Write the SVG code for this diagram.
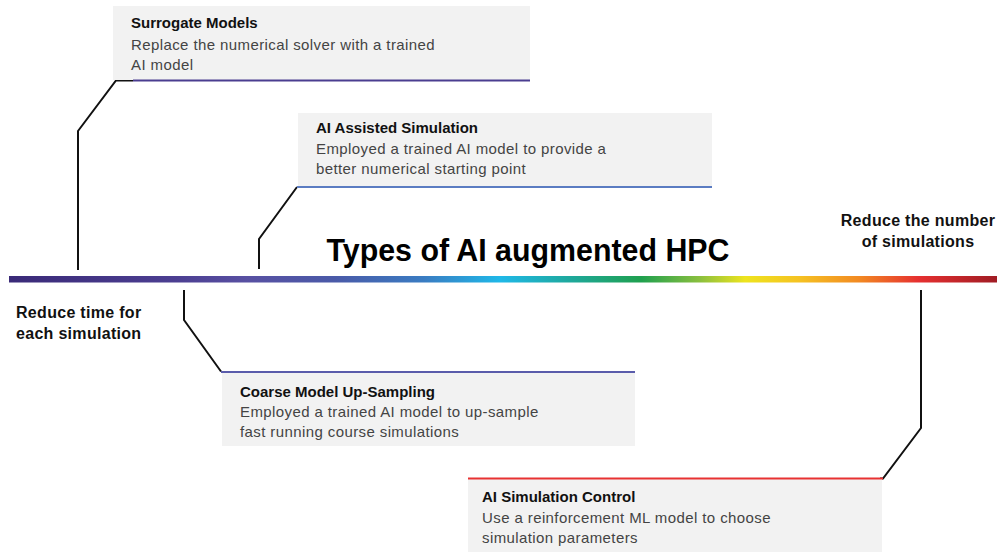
<svg xmlns="http://www.w3.org/2000/svg" width="997" height="552" viewBox="0 0 997 552">
  <style>
    .box { fill: #f2f2f2; }
    .title { font-family: "Liberation Sans", Arial, sans-serif; font-weight: bold; font-size: 15px; fill: #111; }
    .desc { font-family: "Liberation Sans", Arial, sans-serif; font-size: 15px; letter-spacing: 0.4px; fill: #444; }
    .side { font-family: "Liberation Sans", Arial, sans-serif; font-weight: bold; font-size: 16px; letter-spacing: 0.3px; fill: #111; }
    .main { font-family: "Liberation Sans", Arial, sans-serif; font-weight: bold; font-size: 31px; fill: #000; }
    .conn { fill: none; stroke: #111; stroke-width: 2; stroke-linejoin: miter; }
  </style>
  <defs>
    <linearGradient id="spectrum" gradientUnits="userSpaceOnUse" x1="9" y1="0" x2="997" y2="0">
      <stop offset="0" stop-color="#3a2a78"/>
      <stop offset="0.17" stop-color="#4c3f92"/>
      <stop offset="0.24" stop-color="#5850a2"/>
      <stop offset="0.33" stop-color="#4a5aa8"/>
      <stop offset="0.42" stop-color="#3a7cc2"/>
      <stop offset="0.497" stop-color="#1fb8e8"/>
      <stop offset="0.57" stop-color="#1ea89a"/>
      <stop offset="0.64" stop-color="#1fa04e"/>
      <stop offset="0.70" stop-color="#8cc03e"/>
      <stop offset="0.745" stop-color="#eee41e"/>
      <stop offset="0.80" stop-color="#f5c222"/>
      <stop offset="0.86" stop-color="#f28a22"/>
      <stop offset="0.92" stop-color="#e63030"/>
      <stop offset="1" stop-color="#a01c24"/>
    </linearGradient>
  </defs>

  <!-- spectrum axis -->
  <rect x="9" y="276" width="988" height="6.5" fill="url(#spectrum)"/>

  <!-- heading and axis end labels -->
  <text class="main" x="528" y="261" text-anchor="middle" textLength="403" lengthAdjust="spacingAndGlyphs">Types of AI augmented HPC</text>
  <g id="label-left">
    <text class="side" x="16" y="318">Reduce time for</text>
    <text class="side" x="16" y="339">each simulation</text>
  </g>
  <g id="label-right">
    <text class="side" x="918" y="226" text-anchor="middle">Reduce the number</text>
    <text class="side" x="918" y="247" text-anchor="middle">of simulations</text>
  </g>

  <!-- leader lines -->
  <g id="connectors">
    <polyline class="conn" points="78,270 78,131 116,80.5 133,80.5"/>
    <polyline class="conn" points="259,269 259,239 297,187"/>
    <polyline class="conn" points="184,290 184,320 221,371.5"/>
    <polyline class="conn" points="921,290 921,428 883,478.5 880,478.5"/>
  </g>

  <g id="surrogate-models">
    <rect class="box" x="113" y="6" width="417" height="74"/>
    <line x1="133" y1="80.5" x2="530" y2="80.5" stroke="#4a3d90" stroke-width="2"/>
    <text class="title" x="131" y="28">Surrogate Models</text>
    <text class="desc" x="131" y="50">Replace the numerical solver with a trained</text>
    <text class="desc" x="131" y="70">AI model</text>
  </g>

  <g id="ai-assisted-simulation">
    <rect class="box" x="298" y="113" width="414" height="73"/>
    <line x1="297" y1="187" x2="712" y2="187" stroke="#5b7cc2" stroke-width="2"/>
    <text class="title" x="316" y="133">AI Assisted Simulation</text>
    <text class="desc" x="316" y="154">Employed a trained AI model to provide a</text>
    <text class="desc" x="316" y="174">better numerical starting point</text>
  </g>

  <g id="coarse-model-upsampling">
    <rect class="box" x="222" y="372" width="413" height="74"/>
    <line x1="221" y1="372" x2="635" y2="372" stroke="#5a5cab" stroke-width="2"/>
    <text class="title" x="240" y="397">Coarse Model Up-Sampling</text>
    <text class="desc" x="240" y="417">Employed a trained AI model to up-sample</text>
    <text class="desc" x="240" y="437">fast running course simulations</text>
  </g>

  <g id="ai-simulation-control">
    <rect class="box" x="468" y="478" width="414" height="74"/>
    <line x1="468" y1="478.5" x2="883" y2="478.5" stroke="#e83232" stroke-width="2"/>
    <text class="title" x="482" y="502">AI Simulation Control</text>
    <text class="desc" x="482" y="523">Use a reinforcement ML model to choose</text>
    <text class="desc" x="482" y="543">simulation parameters</text>
  </g>
</svg>
